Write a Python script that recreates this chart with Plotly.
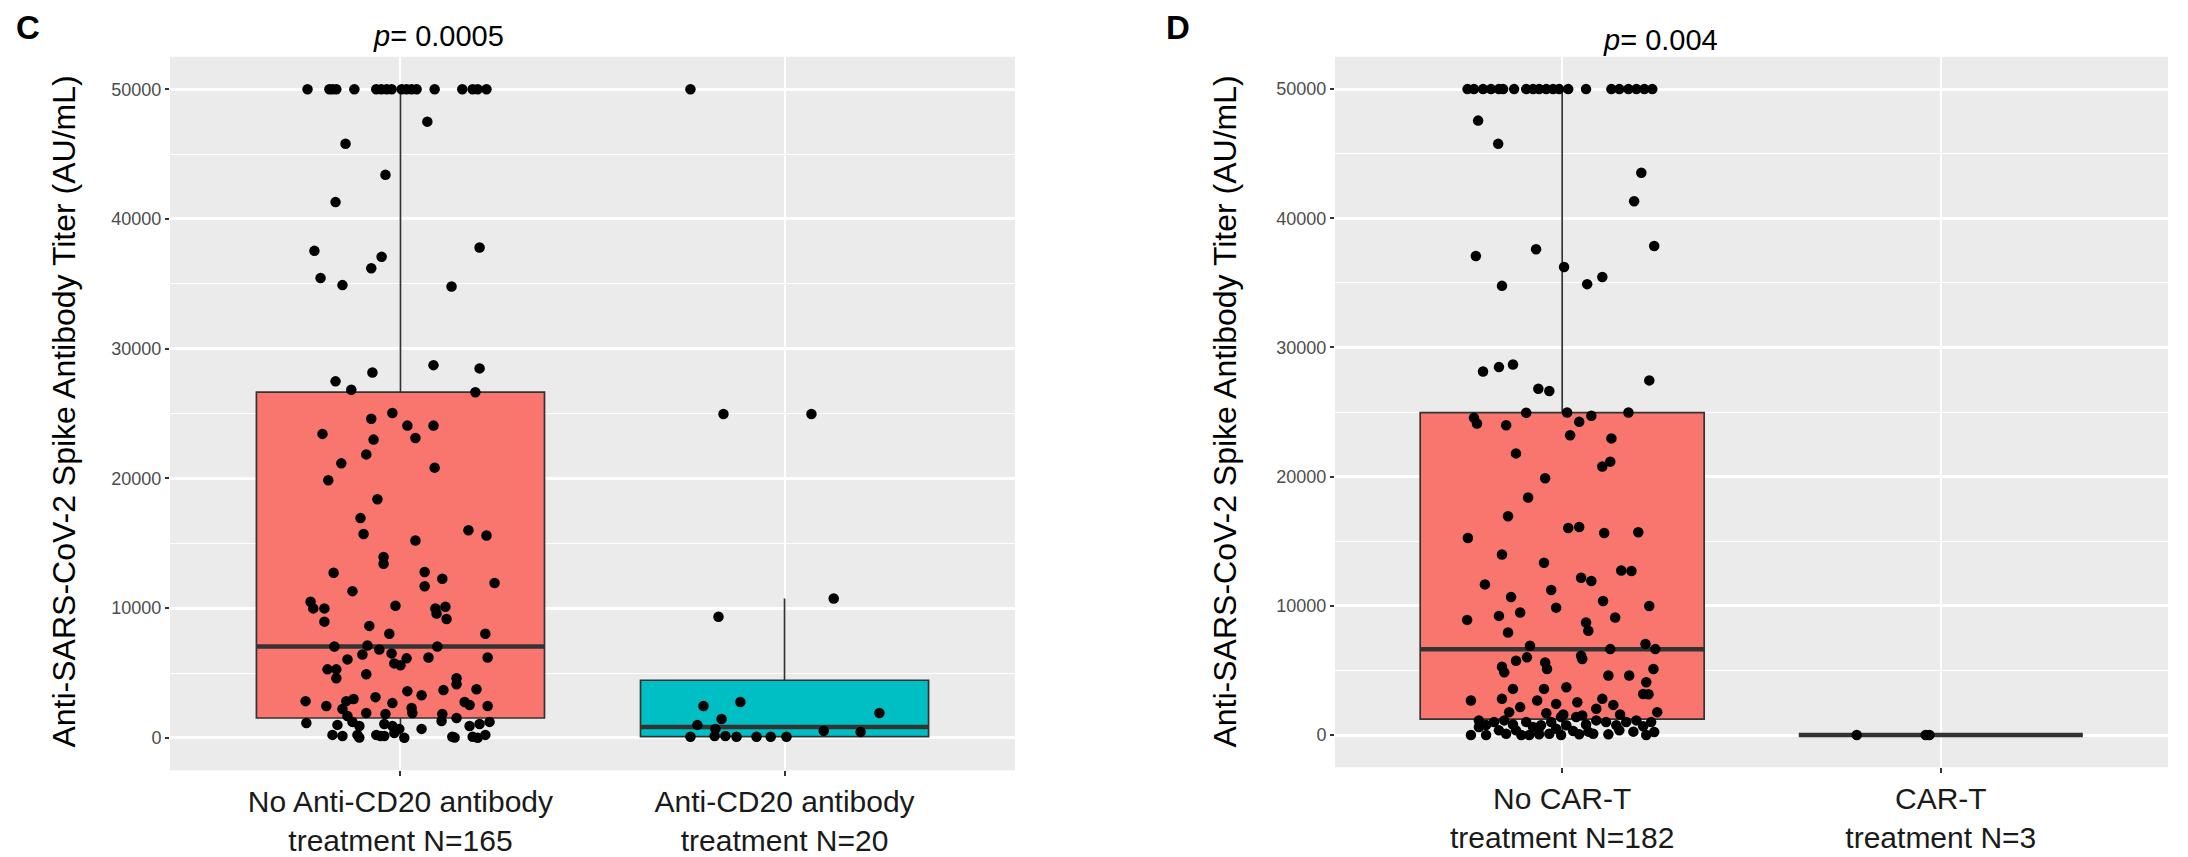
import plotly.graph_objects as go

W, H = 2188, 857

# ---------------- data ----------------
c_categories = ["No Anti-CD20 antibody<br>treatment N=165", "Anti-CD20 antibody<br>treatment N=20"]
d_categories = ["No CAR-T<br>treatment N=182", "CAR-T<br>treatment N=3"]
c_pvalue = "<i>p</i>= 0.0005"
d_pvalue = "<i>p</i>= 0.004"
y_title = "Anti-SARS-CoV-2 Spike Antibody Titer (AU/mL)"
y_tickvals = [0, 10000, 20000, 30000, 40000, 50000]
y_ticktext = ["0", "10000", "20000", "30000", "40000", "50000"]

# box statistics per group
c_q1 = [1530, 100]
c_median = [7040, 840]
c_q3 = [26650, 4440]
c_lower = [0, 0]
c_upper = [50000, 10740]

d_q1 = [1230, 0]
d_median = [6630, 0]
d_q3 = [24960, 0]
d_lower = [0, 0]
d_upper = [50000, 0]

# jittered points: horizontal jitter offset (category units) and titer value
c1_jitter = [-0.242, -0.185, -0.177, -0.167, -0.120, -0.063, -0.050, -0.036, -0.023, 0.003, 0.016, 0.029,
             0.042, 0.089, 0.161, 0.188, 0.201, 0.224,
             0.070, -0.143, -0.039, -0.169, -0.224, 0.206, -0.049, -0.076, -0.208, -0.151, 0.133, 0.086,
             0.206, -0.073, -0.169, -0.128, 0.195, -0.076, -0.021, 0.018, 0.086, -0.203, -0.070, 0.039,
             -0.089, -0.154, 0.089, -0.188, -0.060, -0.104, -0.096, 0.177, 0.224, 0.039, -0.044, -0.044,
             -0.174, 0.063, 0.109, 0.063, 0.245, -0.125, -0.234, -0.227, -0.198, -0.013, 0.091, 0.117,
             0.094, 0.120, -0.198, -0.081, -0.029, 0.221,
             -0.172, -0.138, -0.099, -0.086, -0.055, -0.023, -0.016, 0.000, 0.016, 0.073, 0.096, 0.227,
             -0.190, -0.167, -0.167, -0.089, 0.146, 0.146, 0.198, 0.018, 0.055, 0.112, -0.247, -0.193,
             -0.141, -0.122, -0.065, -0.021, 0.029, 0.167, 0.180, 0.227, -0.151, -0.138, -0.089, -0.039,
             0.031, 0.109, 0.146, -0.245, -0.164, -0.125, -0.107, -0.042, -0.021, -0.003, 0.055, 0.107,
             0.180, 0.206, 0.232, -0.177, -0.151, -0.112, -0.063, -0.042, -0.016, 0.010, 0.135, 0.188,
             0.201, 0.221, -0.107, -0.052, 0.141]
c1_values = [50000] * 18 + \
            [47500, 45800, 43400, 41300, 37540, 37800, 37080, 36200, 35450, 34900, 34800, 28730,
             28480, 28170, 27480, 26830, 26640, 24600, 25040, 24070, 24070, 23430, 22990, 23120,
             21850, 21160, 20830, 19860, 18400, 16940, 15720, 16000, 15600, 15210, 13940, 13420,
             12730, 12790, 12270, 11690, 11940, 11310, 10490, 9980, 9980, 10180, 9980, 10110,
             9590, 9160, 8960, 8630, 8020, 8020,
             7040, 6050, 6430, 7120, 6810, 6510, 5740, 5590, 6130, 6200, 7040, 6200,
             5280, 5280, 4590, 4900, 4590, 4130, 3750, 3600, 3290, 3680, 2830, 2450,
             2830, 2990, 3140, 2680, 2300, 2760, 2530, 2450, 2220, 1680, 1910, 1840,
             1910, 1840, 1530, 1150, 1000, 1230, 920, 1070, 920, 690, 690, 1300,
             920, 1070, 1230, 230, 150, 230, 230, 150, 380, 0, 80, 80,
             0, 230, 20, 150, 20]

c2_jitter = [-0.211, -0.115, -0.164, -0.227, -0.180, -0.245, -0.182, -0.154, -0.125, -0.073, -0.036,
             0.005, 0.102, 0.198, 0.247, -0.172, 0.128, -0.159, 0.070, -0.245]
c2_values = [2450, 2760, 1450, 1000, 690, 80, 150, 150, 80, 80, 80,
             80, 540, 460, 1910, 9340, 10740, 24960, 24960, 50000]

d1_jitter = [-0.250, -0.233, -0.209, -0.188, -0.167, -0.156, -0.127, -0.095, -0.077, -0.061, -0.042,
             -0.024, -0.008, 0.016, 0.063, 0.130, 0.151, 0.175, 0.196, 0.217, 0.238,
             -0.222, -0.169, 0.209, 0.190, -0.228, -0.069, 0.243, 0.005, -0.159, 0.066, 0.106, -0.209,
             -0.167, -0.130, 0.230, -0.063, -0.034, -0.095, 0.013, 0.077, 0.175, -0.233, -0.225, -0.148,
             0.045, 0.021, 0.130, -0.122, 0.127, 0.106, -0.045, -0.090, -0.143, 0.016, 0.045, 0.111,
             0.201, -0.249, -0.159, -0.048, 0.156, 0.183, 0.050, 0.077, -0.204, -0.029, -0.135, 0.108,
             0.230, -0.016, -0.111, -0.167, -0.251, 0.140, 0.063, -0.143, 0.069, -0.085, 0.220, 0.127,
             0.246, -0.093, 0.050, 0.053, -0.122, -0.045, -0.159, -0.040, -0.153, 0.241, 0.122, 0.177,
             0.222, -0.130, 0.011, -0.048, 0.214, 0.228, -0.241, -0.159, -0.066, -0.016, 0.040, 0.106,
             0.135, -0.111, 0.090, 0.251, -0.140, -0.042, 0.003, 0.053, 0.153,
             -0.220, -0.201, -0.180, -0.153, -0.130, -0.095, -0.077, -0.056, -0.029, -0.003, 0.011,
             0.037, 0.063, 0.090, 0.116, 0.143, 0.169, 0.196, 0.214, -0.241, -0.201, -0.148, -0.108,
             -0.087, -0.061, -0.034, -0.003, 0.045, 0.082, 0.122, -0.220, -0.167, -0.122, -0.063,
             -0.016, 0.029, 0.069, 0.151, 0.188, 0.235, 0.243, 0.222]
d1_values = [50000] * 21 + \
            [47560, 45760, 43530, 41320, 37080, 37600, 37850, 36230, 34770, 34900, 35460, 28140,
             28480, 28680, 27450, 26810, 26630, 24940, 24960, 24710, 24960, 24550, 24110, 23980,
             24240, 23210, 22960, 21800, 21160, 20780, 19880, 18390, 16930, 16020, 16100, 15640,
             15690, 15250, 13970, 13330, 12740, 12690, 12170, 11920, 11660, 11220, 10680, 10370,
             9990, 9860, 9480, 9220, 8910, 9090, 8710, 7940, 8070, 6910, 7040, 6650,
             6650, 6010, 6140, 5880, 5750, 5620, 5290, 5110, 4850, 5110, 4600, 4600,
             4080, 3570, 3700, 3570, 3180, 3150, 2670, 2800, 2670, 2410, 2540, 2800,
             2330, 2160, 2030, 1770, 1770, 1690, 1590, 1510, 1590,
             1130, 770, 1000, 1130, 820, 1000, 620, 750, 1000, 1390, 750,
             1390, 820, 1130, 1000, 750, 1000, 1130, 670, 0, 0, 100, 0,
             0, 50, 100, 0, 50, 100, 50, 620, 360, 360, 360,
             490, 310, 260, 360, 260, 1000, 230, 0]

d2_jitter = [-0.222, -0.040, -0.030]
d2_values = [0, 0, 0]

# ---------------- styling ----------------
FONT = "Liberation Sans, Arial, Helvetica, sans-serif"
FILLS = ["#F8766D", "#00BFC4"]
BOX_LINE = "#333333"
BOX_WIDTH = 0.75
PANEL_BG = "#EBEBEB"

# panel pixel geometry
C_LEFT, C_RIGHT = 170, 1015
D_LEFT, D_RIGHT = 1335, 2168
C_TOP, C_BOTTOM = 57, 773
D_TOP, D_BOTTOM = 57, 770


def px_x(v):
    return v / W


def px_y(v):
    return 1 - v / H


fig = go.Figure()


def add_panel(xa, ya, q1, med, q3, lo, hi, groups):
    xref = "x" if xa == "xaxis" else "x2"
    yref = "y" if ya == "yaxis" else "y2"
    for i in range(2):
        pos = i + 1
        fig.add_trace(go.Box(
            x=[pos], q1=[q1[i]], median=[med[i]], q3=[q3[i]],
            lowerfence=[lo[i]], upperfence=[hi[i]],
            width=BOX_WIDTH, whiskerwidth=0, boxpoints=False,
            fillcolor=FILLS[i], line=dict(color=BOX_LINE, width=1.7),
            xaxis=xref, yaxis=yref, showlegend=False, hoverinfo="skip"))
        fig.add_trace(go.Scatter(
            x=[pos - BOX_WIDTH / 2, pos + BOX_WIDTH / 2], y=[med[i], med[i]],
            mode="lines", line=dict(color=BOX_LINE, width=4.5),
            xaxis=xref, yaxis=yref, showlegend=False, hoverinfo="skip"))
    for i, (jit, vals) in enumerate(groups):
        pos = i + 1
        fig.add_trace(go.Scatter(
            x=[pos + j for j in jit], y=vals, mode="markers",
            marker=dict(color="black", size=10.5, line=dict(width=0)),
            xaxis=xref, yaxis=yref, showlegend=False, hoverinfo="skip"))


add_panel("xaxis", "yaxis", c_q1, c_median, c_q3, c_lower, c_upper,
          [(c1_jitter, c1_values), (c2_jitter, c2_values)])
add_panel("xaxis2", "yaxis2", d_q1, d_median, d_q3, d_lower, d_upper,
          [(d1_jitter, d1_values), (d2_jitter, d2_values)])


def xaxis_cfg(left, right, labels, anchor):
    return dict(domain=[px_x(left), px_x(right)], range=[0.4, 2.6], anchor=anchor,
                tickvals=[1, 2], ticktext=labels, showgrid=True, gridcolor="white",
                gridwidth=2.4, zeroline=False, showline=False, ticks="outside",
                ticklen=5, tickwidth=1.5, tickcolor="#333333",
                tickfont=dict(family=FONT, size=30, color="#1a1a1a"))


def yaxis_cfg(top, bottom, anchor):
    return dict(domain=[px_y(bottom), px_y(top)], range=[-2500, 52500], anchor=anchor,
                tickvals=y_tickvals, ticktext=y_ticktext, showgrid=True, gridcolor="white",
                gridwidth=2.6, zeroline=False, showline=False, ticks="outside",
                ticklen=4, tickwidth=1.5, tickcolor="#333333",
                tickfont=dict(family=FONT, size=18, color="#4d4d4d"),
                minor=dict(dtick=5000, tick0=0, showgrid=True, gridcolor="white",
                           gridwidth=1.3, ticks=""))


annotations = [
    dict(text=y_title, x=px_x(64), y=px_y(413), textangle=-90, font=dict(size=32)),
    dict(text=y_title, x=px_x(1225), y=px_y(413), textangle=-90, font=dict(size=32)),
    dict(text=c_pvalue, x=px_x(438), y=px_y(36), font=dict(size=29)),
    dict(text=d_pvalue, x=px_x(1660), y=px_y(40), font=dict(size=29)),
    dict(text="<b>C</b>", x=px_x(28), y=px_y(28), font=dict(size=33)),
    dict(text="<b>D</b>", x=px_x(1178), y=px_y(28), font=dict(size=33)),
]
for a in annotations:
    a.update(xref="paper", yref="paper", showarrow=False, xanchor="center", yanchor="middle")
    a["font"].update(family=FONT, color="black")

fig.update_layout(
    width=W, height=H,
    margin=dict(l=0, r=0, t=0, b=0),
    paper_bgcolor="white", plot_bgcolor=PANEL_BG,
    xaxis=xaxis_cfg(C_LEFT, C_RIGHT, c_categories, "y"),
    yaxis=yaxis_cfg(C_TOP, C_BOTTOM, "x"),
    xaxis2=xaxis_cfg(D_LEFT, D_RIGHT, d_categories, "y2"),
    yaxis2=yaxis_cfg(D_TOP, D_BOTTOM, "x2"),
    annotations=annotations,
    boxmode="overlay",
)

fig.write_html("out.html")
